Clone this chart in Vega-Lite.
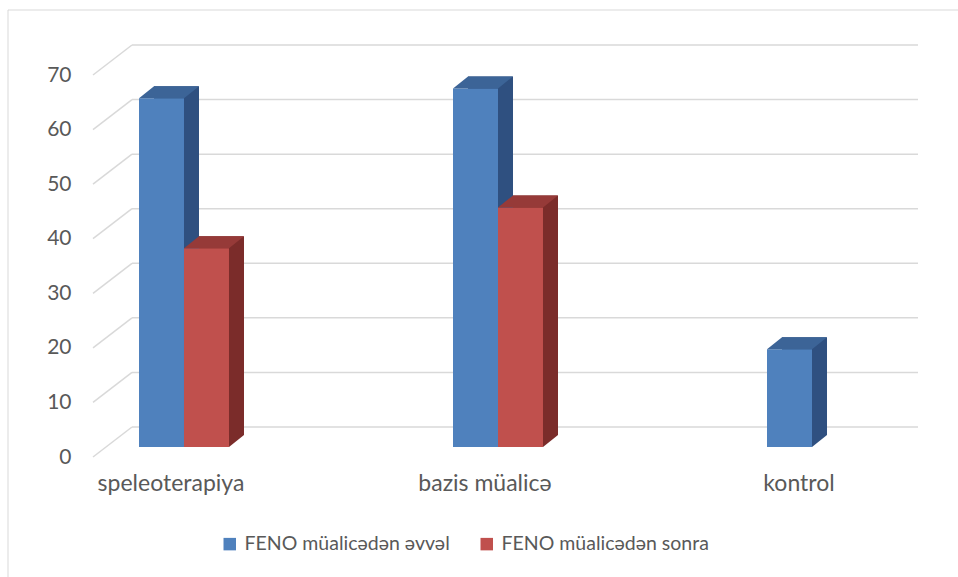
{
  "$schema": "https://vega.github.io/schema/vega-lite/v6.json",
  "width": 950.5,
  "height": 567.5,
  "autosize": {"type": "none"},
  "padding": {"left": 7.5, "top": 9.5, "right": 0, "bottom": 0},
  "background": "white",
  "config": {
    "font": "Lato",
    "view": {"stroke": "#D9D9D9", "strokeWidth": 1, "strokeDash": [950.5, 1518, 567.5]},
    "axisX": {"title": null, "offset": -104.4, "labelPadding": 0, "ticks": false, "tickSize": 0, "domain": false, "grid": false,
              "labelAngle": 0, "labelOffset": -13, "labelFontSize": 23, "labelFont": "Lato", "labelColor": "#595959"},
    "axisY": {"title": null, "offset": -85.5, "labelPadding": 22, "ticks": false, "tickSize": 0,
              "domain": false, "grid": false, "labelFontSize": 21, "labelFont": "Lato", "labelColor": "#595959"}
  },
  "datasets": {
    "feno": [
      {"group": "speleoterapiya", "series": "FENO müalicədən əvvəl", "value": 63.9},
      {"group": "speleoterapiya", "series": "FENO müalicədən sonra", "value": 36.4},
      {"group": "bazis müalicə", "series": "FENO müalicədən əvvəl", "value": 65.7},
      {"group": "bazis müalicə", "series": "FENO müalicədən sonra", "value": 43.9},
      {"group": "kontrol", "series": "FENO müalicədən əvvəl", "value": 17.9}
    ],
    "ticks": [
      {"tick": 0}, {"tick": 10}, {"tick": 20}, {"tick": 30},
      {"tick": 40}, {"tick": 50}, {"tick": 60}, {"tick": 70}
    ]
  },
  "resolve": {"scale": {"color": "independent", "xOffset": "independent"}},
  "layer": [
    {
      "data": {"name": "ticks"},
      "mark": {"type": "rule", "color": "#D9D9D9", "strokeWidth": 1.5, "xOffset": -52, "x2Offset": 106, "yOffset": -30},
      "encoding": {
        "x": {"datum": "speleoterapiya", "type": "nominal", "title": null,
              "scale": {"domain": ["speleoterapiya", "bazis müalicə", "kontrol"], "range": [131.5, 849.5], "paddingInner": 0.7134, "paddingOuter": 0}},
        "x2": {"datum": "kontrol"},
        "y": {"field": "tick", "type": "quantitative", "title": null, "axis": {"values": [0, 10, 20, 30, 40, 50, 60, 70]},
              "scale": {"domain": [0, 70], "range": [447.5, 65.5], "nice": false, "zero": true}}
      }
    },
    {
      "data": {"name": "ticks"},
      "mark": {"type": "rule", "color": "#D9D9D9", "strokeWidth": 1.5, "xOffset": -91, "x2Offset": -52, "y2Offset": -30},
      "encoding": {
        "x": {"datum": "speleoterapiya", "type": "nominal", "title": null,
              "scale": {"domain": ["speleoterapiya", "bazis müalicə", "kontrol"], "range": [131.5, 849.5], "paddingInner": 0.7134, "paddingOuter": 0}},
        "x2": {"datum": "speleoterapiya"},
        "y": {"field": "tick", "type": "quantitative", "title": null, "axis": {"values": [0, 10, 20, 30, 40, 50, 60, 70]},
              "scale": {"domain": [0, 70], "range": [447.5, 65.5], "nice": false, "zero": true}},
        "y2": {"field": "tick"}
      }
    },
    {
      "data": {"name": "feno"},
      "mark": {"type": "bar", "yOffset": -22, "y2Offset": -22},
      "encoding": {
        "x": {"field": "group", "type": "nominal", "title": null,
              "scale": {"domain": ["speleoterapiya", "bazis müalicə", "kontrol"], "range": [131.5, 849.5], "paddingInner": 0.7134, "paddingOuter": 0}},
        "xOffset": {"field": "series", "type": "nominal",
                    "scale": {"domain": ["FENO müalicədən əvvəl", "FENO müalicədən sonra"], "range": [15, 105], "paddingInner": 0, "paddingOuter": 0}},
        "y": {"field": "value", "type": "quantitative", "title": null, "axis": {"values": [0, 10, 20, 30, 40, 50, 60, 70]},
              "scale": {"domain": [0, 70], "range": [447.5, 65.5], "nice": false, "zero": true}},
        "color": {"field": "series", "type": "nominal", "legend": null,
                  "scale": {"domain": ["FENO müalicədən əvvəl", "FENO müalicədən sonra"], "range": ["#2F5080", "#7B2C2A"]}}
      }
    },
    {
      "data": {"name": "feno"},
      "mark": {"type": "point", "shape": "M45,0L45,-12L60,-12Z", "size": 4, "filled": true, "opacity": 1, "strokeWidth": 0, "yOffset": -10},
      "encoding": {
        "x": {"field": "group", "type": "nominal", "title": null,
              "scale": {"domain": ["speleoterapiya", "bazis müalicə", "kontrol"], "range": [131.5, 849.5], "paddingInner": 0.7134, "paddingOuter": 0}},
        "xOffset": {"field": "series", "type": "nominal",
                    "scale": {"type": "point", "domain": ["FENO müalicədən əvvəl", "FENO müalicədən sonra"], "range": [0, 45], "padding": 0}},
        "y": {"datum": 0, "type": "quantitative", "title": null, "axis": {"values": [0, 10, 20, 30, 40, 50, 60, 70]},
              "scale": {"domain": [0, 70], "range": [447.5, 65.5], "nice": false, "zero": true}},
        "color": {"field": "series", "type": "nominal", "legend": null,
                  "scale": {"domain": ["FENO müalicədən əvvəl", "FENO müalicədən sonra"], "range": ["#2F5080", "#7B2C2A"]}}
      }
    },
    {
      "data": {"name": "feno"},
      "mark": {"type": "bar", "yOffset": -10, "y2Offset": -10},
      "encoding": {
        "x": {"field": "group", "type": "nominal", "title": null,
              "scale": {"domain": ["speleoterapiya", "bazis müalicə", "kontrol"], "range": [131.5, 849.5], "paddingInner": 0.7134, "paddingOuter": 0}},
        "xOffset": {"field": "series", "type": "nominal",
                    "scale": {"domain": ["FENO müalicədən əvvəl", "FENO müalicədən sonra"], "paddingInner": 0, "paddingOuter": 0}},
        "y": {"field": "value", "type": "quantitative", "title": null, "axis": {"values": [0, 10, 20, 30, 40, 50, 60, 70]},
              "scale": {"domain": [0, 70], "range": [447.5, 65.5], "nice": false, "zero": true}},
        "color": {"field": "series", "type": "nominal",
                  "scale": {"domain": ["FENO müalicədən əvvəl", "FENO müalicədən sonra"], "range": ["#4F81BD", "#C0504D"]},
                  "legend": {"title": null, "orient": "none", "legendX": 212.5, "legendY": 524.5, "direction": "horizontal",
                             "symbolType": "square", "symbolSize": 156, "symbolStrokeWidth": 0, "labelFontSize": 19.5, "labelFont": "Lato",
                             "labelColor": "#595959", "labelOffset": 5, "columnPadding": 27, "padding": 0, "labelLimit": 400}}
      }
    },
    {
      "data": {"name": "feno"},
      "mark": {"type": "point", "shape": "M0,0L45,0L60,-12L15,-12Z", "size": 4, "filled": true, "opacity": 1, "strokeWidth": 0, "yOffset": -10},
      "encoding": {
        "x": {"field": "group", "type": "nominal", "title": null,
              "scale": {"domain": ["speleoterapiya", "bazis müalicə", "kontrol"], "range": [131.5, 849.5], "paddingInner": 0.7134, "paddingOuter": 0}},
        "xOffset": {"field": "series", "type": "nominal",
                    "scale": {"type": "point", "domain": ["FENO müalicədən əvvəl", "FENO müalicədən sonra"], "range": [0, 45], "padding": 0}},
        "y": {"field": "value", "type": "quantitative", "title": null, "axis": {"values": [0, 10, 20, 30, 40, 50, 60, 70]},
              "scale": {"domain": [0, 70], "range": [447.5, 65.5], "nice": false, "zero": true}},
        "color": {"field": "series", "type": "nominal", "legend": null,
                  "scale": {"domain": ["FENO müalicədən əvvəl", "FENO müalicədən sonra"], "range": ["#3C6497", "#963A38"]}}
      }
    }
  ]
}
